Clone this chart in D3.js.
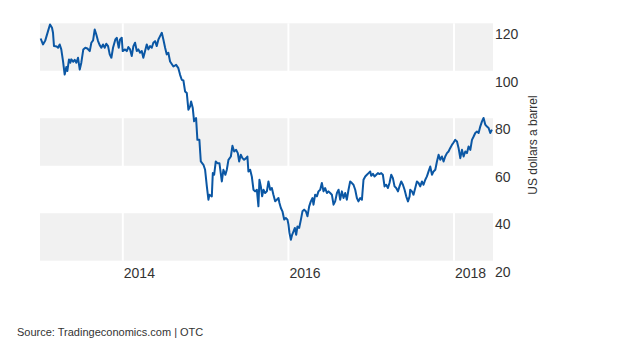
<!DOCTYPE html>
<html>
<head>
<meta charset="utf-8">
<script src="https://cdn.jsdelivr.net/npm/d3@7/dist/d3.min.js"></script>
<style>
  html, body { margin: 0; padding: 0; background: #ffffff; }
  svg { display: block; }
  text { font-family: "Liberation Sans", Arial, Helvetica, sans-serif; }
</style>
</head>
<body>
<svg id="chart" width="620" height="359"></svg>
<script>
// ---- data ----
const years = [
  2013.008,2013.036,2013.064,2013.097,2013.121,2013.145,2013.157,2013.169,2013.202,2013.218,
  2013.238,2013.257,2013.278,2013.298,2013.318,2013.330,2013.350,2013.366,2013.378,2013.402,
  2013.419,2013.439,2013.459,2013.480,2013.499,2013.523,2013.547,2013.572,2013.601,2013.620,
  2013.641,2013.661,2013.680,2013.701,2013.721,2013.741,2013.761,2013.782,2013.801,2013.822,
  2013.842,2013.862,2013.882,2013.910,2013.927,2013.951,2013.967,2013.987,2013.999,2014.027,
  2014.048,2014.067,2014.088,2014.108,2014.128,2014.148,2014.169,2014.188,2014.209,2014.229,
  2014.248,2014.269,2014.289,2014.309,2014.329,2014.350,2014.369,2014.390,2014.410,2014.430,
  2014.450,2014.471,2014.490,2014.511,2014.531,2014.550,2014.571,2014.611,2014.644,2014.671,
  2014.692,2014.712,2014.732,2014.752,2014.773,2014.792,2014.813,2014.825,2014.845,2014.861,
  2014.885,2014.901,2014.925,2014.942,2014.974,2014.994,2015.015,2015.034,2015.046,2015.075,
  2015.087,2015.103,2015.123,2015.143,2015.167,2015.196,2015.215,2015.239,2015.256,2015.276,
  2015.305,2015.324,2015.345,2015.369,2015.389,2015.405,2015.425,2015.445,2015.465,2015.490,
  2015.505,2015.517,2015.538,2015.558,2015.578,2015.598,2015.619,2015.638,2015.650,2015.667,
  2015.683,2015.699,2015.719,2015.740,2015.759,2015.780,2015.800,2015.819,2015.840,2015.860,
  2015.880,2015.892,2015.909,2015.928,2015.949,2015.969,2015.989,2016.001,2016.013,2016.030,
  2016.045,2016.061,2016.078,2016.094,2016.109,2016.130,2016.151,2016.170,2016.190,2016.211,
  2016.230,2016.251,2016.271,2016.291,2016.303,2016.323,2016.344,2016.363,2016.384,2016.404,
  2016.424,2016.444,2016.465,2016.484,2016.505,2016.525,2016.545,2016.565,2016.586,2016.606,
  2016.625,2016.646,2016.666,2016.686,2016.706,2016.726,2016.746,2016.767,2016.786,2016.807,
  2016.827,2016.846,2016.867,2016.888,2016.907,2016.928,2016.948,2016.968,2016.988,2017.000,
  2017.021,2017.040,2017.061,2017.081,2017.100,2017.121,2017.141,2017.161,2017.181,2017.202,
  2017.221,2017.242,2017.262,2017.282,2017.302,2017.323,2017.342,2017.363,2017.383,2017.403,
  2017.423,2017.444,2017.464,2017.471,2017.492,2017.511,2017.532,2017.552,2017.572,2017.592,
  2017.613,2017.632,2017.653,2017.673,2017.693,2017.713,2017.734,2017.753,2017.774,2017.794,
  2017.814,2017.834,2017.854,2017.874,2017.894,2017.915,2017.934,2017.955,2017.975,2017.995,
  2018.015,2018.036,2018.055,2018.076,2018.096,2018.116,2018.136,2018.156,2018.176,2018.197,
  2018.217,2018.237,2018.257,2018.277,2018.297,2018.317,2018.338,2018.357,2018.378,2018.398,
  2018.418,2018.438,2018.458
];
const prices = [
  113.6,111.1,112.8,116.7,119.5,118.1,116.0,110.4,110.2,109.7,
  111.1,109.0,104.1,98.4,101.6,99.9,104.8,103.4,104.8,103.8,
  104.6,103.4,105.5,100.5,103.4,109.0,109.7,109.4,108.3,111.8,
  112.8,117.4,115.3,112.5,110.8,109.7,111.1,109.7,111.4,110.4,
  106.9,105.5,109.7,113.2,113.9,109.7,113.2,113.9,108.3,109.0,
  108.3,110.0,109.0,106.2,110.4,111.8,108.3,109.0,107.6,108.3,
  105.5,108.3,111.1,109.0,110.4,109.7,111.8,112.5,110.4,113.2,
  114.6,116.0,113.2,109.7,106.9,107.6,103.9,101.8,102.5,101.1,
  98.3,96.2,95.9,91.3,90.6,83.6,85.0,87.1,84.3,78.7,
  80.1,70.9,70.9,61.8,60.4,58.3,51.3,45.7,47.8,47.1,
  56.9,56.2,61.8,61.1,61.1,53.4,58.3,56.2,58.3,62.5,
  63.9,68.4,66.0,66.7,65.3,61.8,64.6,63.2,62.5,63.2,
  63.9,57.6,58.3,55.5,49.9,49.2,49.9,42.9,54.1,51.3,
  47.1,49.9,48.5,49.2,53.4,49.9,50.6,47.8,45.0,45.7,
  46.4,44.3,42.2,40.8,37.3,38.0,37.3,35.2,31.7,28.8,
  30.9,32.3,33.8,30.9,34.4,33.8,37.3,40.8,41.5,40.8,
  38.7,42.9,45.0,46.4,43.6,47.8,47.1,49.2,49.9,52.7,
  49.2,50.6,48.5,49.2,48.5,47.8,43.6,45.0,48.5,49.9,
  45.7,49.2,46.4,48.5,45.7,49.9,53.4,52.7,52.0,49.9,
  46.4,45.0,46.4,45.7,54.1,55.5,56.2,56.9,57.6,55.8,
  56.6,55.5,56.2,56.9,56.5,56.9,56.2,51.3,52.0,50.6,
  52.7,56.2,54.8,51.3,50.6,49.2,51.3,53.4,52.0,49.9,
  47.1,45.0,47.1,49.9,49.2,47.8,50.6,53.4,52.7,51.3,
  53.4,52.0,54.1,55.5,57.6,59.7,56.2,57.6,58.3,61.8,
  64.6,62.5,63.9,61.8,63.9,65.3,66.0,67.5,68.8,69.8,
  70.9,70.2,67.5,63.2,66.7,63.9,66.0,65.3,68.1,66.7,
  70.9,72.3,73.8,74.4,73.8,76.5,78.7,80.1,77.3,76.5,
  75.9,73.8,75.2
];
const yearTicks = [2014, 2016, 2018];
const priceTicks = [20, 40, 60, 80, 100, 120];
const bandRanges = [[20, 40], [60, 80], [100, 120]];
const yTitle = "US dollars a barrel";
const sourceText = "Source: Tradingeconomics.com | OTC";

// ---- layout ----
const svg = d3.select("#chart");
const plotL = 40, plotR = 493, plotT = 23.3, plotB = 260.7;
const x = d3.scaleLinear().domain([2013, 2018.471]).range([plotL, plotR]);
const y = d3.scaleLinear().domain([20, 120]).range([plotB, plotT]);

// gray bands
svg.append("g").selectAll("rect").data(bandRanges).join("rect")
  .attr("x", plotL)
  .attr("width", plotR - plotL)
  .attr("y", d => y(d[1]))
  .attr("height", d => y(d[0]) - y(d[1]))
  .attr("fill", "#f1f1f1");

// white vertical year separators
svg.append("g").selectAll("line").data(yearTicks).join("line")
  .attr("x1", d => x(d)).attr("x2", d => x(d))
  .attr("y1", plotT).attr("y2", plotB)
  .attr("stroke", "#ffffff").attr("stroke-width", 2);

// line
const line = d3.line()
  .x((d, i) => x(years[i]))
  .y(d => y(d))
  .curve(d3.curveLinear);
svg.append("path")
  .datum(prices)
  .attr("d", line)
  .attr("fill", "none")
  .attr("stroke", "#0b57a4")
  .attr("stroke-width", 2)
  .attr("stroke-linejoin", "round");

// y axis (right)
const yAxis = d3.axisRight(y).tickValues(priceTicks).tickSize(0).tickPadding(0);
const gy = svg.append("g").attr("transform", `translate(${plotR + 2},0)`).call(yAxis);
gy.select(".domain").remove();
gy.selectAll("text")
  .attr("dy", null)
  .attr("dominant-baseline", "central")
  .attr("y", 10.5)
  .attr("fill", "#333")
  .style("font-size", "14px")
  .style("font-family", '"Liberation Sans", Arial, sans-serif');

// x axis labels
const xAxis = d3.axisBottom(x).tickValues(yearTicks).tickSize(0).tickPadding(0).tickFormat(d3.format("d"));
const gx = svg.append("g").attr("transform", `translate(0,${plotB})`).call(xAxis);
gx.select(".domain").remove();
gx.selectAll("text")
  .attr("dy", null)
  .attr("text-anchor", "start")
  .attr("x", 0.5)
  .attr("dominant-baseline", "central")
  .attr("y", 12.3)
  .attr("fill", "#333")
  .style("font-size", "14px")
  .style("font-family", '"Liberation Sans", Arial, sans-serif');

// y title
svg.append("text")
  .attr("transform", "translate(532.5,145) rotate(-90)")
  .attr("text-anchor", "middle")
  .attr("dominant-baseline", "central")
  .attr("fill", "#333")
  .style("font-size", "12px")
  .text(yTitle);

// source
svg.append("text")
  .attr("x", 17)
  .attr("y", 331.7)
  .attr("dominant-baseline", "central")
  .attr("fill", "#333")
  .style("font-size", "11px")
  .text(sourceText);
</script>
</body>
</html>
